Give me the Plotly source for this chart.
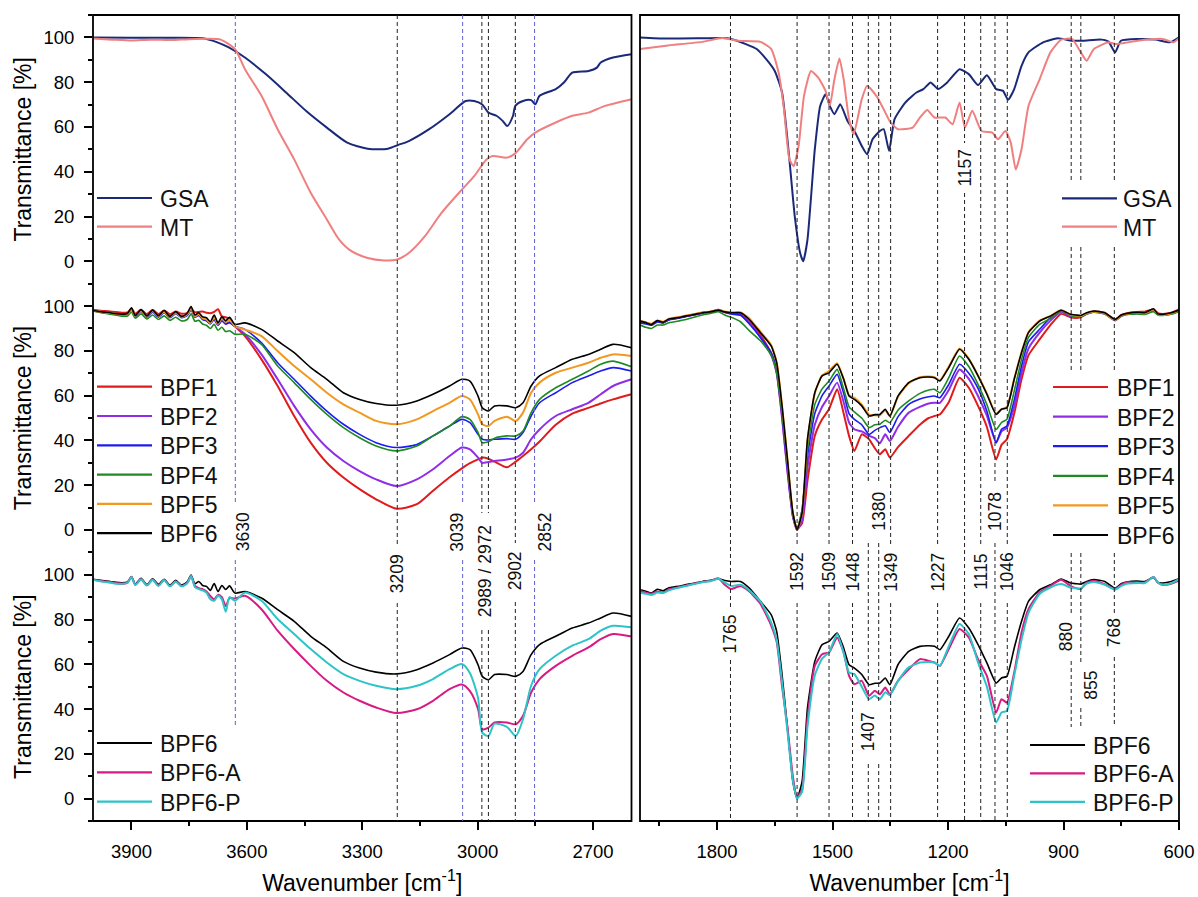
import plotly.graph_objects as go
from plotly.subplots import make_subplots

# ---------------- DATA ----------------
# Top-left panel (4000-2600 cm-1)
GSA_L_WN = [4000, 3900, 3800, 3711, 3680, 3647, 3605, 3551, 3498, 3445, 3392, 3339, 3286, 3233, 3206, 3179,
            3126, 3073, 3031, 3009, 2988, 2972, 2951, 2935, 2923, 2908, 2902, 2882, 2861, 2850, 2839, 2797,
            2775, 2754, 2712, 2690, 2680, 2648, 2600]
GSA_L_T = [100, 99.8, 99.8, 99.5, 98, 95.5, 91, 83.6, 75.4, 67, 59.7, 53, 50.3, 50.3, 52, 53.7,
           59, 65.7, 71.6, 71.6, 70, 66.4, 65, 62.7, 60.4, 65, 69.4, 71.6, 72, 70.1, 73.9, 76.9,
           80, 84.3, 85, 86.5, 88.8, 91, 92.5]
MT_L_WN = [4000, 3950, 3900, 3850, 3800, 3750, 3700, 3668, 3631, 3605, 3562, 3520, 3477, 3434, 3392, 3360,
           3328, 3286, 3243, 3211, 3179, 3137, 3094, 3041, 3009, 2977, 2961, 2924, 2902, 2871, 2850, 2797,
           2754, 2712, 2669, 2600]
MT_L_T = [99.5, 99, 98.6, 99, 98.8, 99.2, 99.4, 99, 94.8, 85.8, 73.9, 59, 45.5, 30.6, 18.7, 9.7,
          4.5, 1.5, 0.4, 0.7, 3.7, 11.2, 21.6, 32, 38, 45.5, 47, 46.3, 48.2, 54.5, 57.5, 62,
          65, 66.4, 69.4, 72.4]

# Middle/bottom-left panels common wavenumber grid
WN_L = [4000, 3985, 3970, 3955, 3940, 3925, 3910, 3900, 3890, 3875, 3860, 3845, 3830, 3815, 3800, 3785,
        3770, 3755, 3745, 3735, 3725, 3715, 3705, 3695, 3685, 3675, 3665, 3655, 3645,
        3631, 3605, 3562, 3520, 3477, 3434, 3392, 3349, 3307, 3264, 3211, 3158, 3116, 3073, 3041, 3020,
        2999, 2988, 2972, 2956, 2924, 2901, 2882, 2861, 2839, 2797, 2754, 2712, 2680, 2648, 2600]
BPF1_L = [98.4, 98, 97.8, 97.6, 97.3, 97, 97.2, 98.8, 96.6, 98.4, 96.4, 98.2, 96.4, 98, 96.4, 97.6,
          96.6, 97, 98.6, 97.2, 97.4, 97.6, 97, 96.8, 97.4, 98.6, 95.4, 95, 94.4,
          91, 86.6, 76.2, 64.3, 50.9, 39, 30, 23.4, 18.2, 13.7, 9.5, 11.5, 17.5, 23.5, 27.5, 29.8,
          31.5, 32.3, 31.8, 30.5, 28, 30.5, 33, 36, 39.5, 47, 52, 54.5, 56.5, 58.3, 60.6]
BPF2_L = [98, 97.6, 97.2, 96.8, 96.5, 96.2, 96.5, 98.6, 95.6, 98, 95.5, 97.8, 95.5, 97.6, 95.3, 97.2,
          95.2, 96, 98.5, 95.5, 96, 94.4, 93.6, 92.4, 94, 91.6, 93.6, 92, 92.8,
          91, 87.4, 78.4, 67.3, 55.4, 44.9, 36.8, 30.8, 26.3, 22.6, 19.6, 22.6, 27.1, 33, 36.8, 36,
          32.3, 30, 30.4, 30.8, 31.5, 32.3, 34.5, 40.5, 44.9, 50.9, 53.9, 56.8, 60.6, 64.3, 67.3]
BPF3_L = [97.8, 97.4, 97, 96.7, 96.3, 96, 96.3, 98.4, 95.3, 97.6, 95, 97.3, 95, 97, 94.8, 96.6,
          94.8, 95.8, 98.4, 95, 95.8, 94, 93.4, 92, 94.2, 91.5, 93.5, 92, 92.6,
          91, 89.6, 83.6, 74.7, 67.3, 59.8, 53.1, 47.2, 42.7, 39, 36.8, 38.2, 42, 46.4, 49.4, 47.9,
          42.7, 40.5, 40.2, 40.5, 40.8, 40.5, 43.5, 50.9, 56.8, 61.3, 65.8, 68.8, 71, 72.5, 71]
BPF4_L = [97.8, 97.2, 96.8, 96.4, 96, 95.5, 95.6, 97.2, 94.6, 96.5, 94.2, 96, 94, 95.6, 93.6, 95,
          93.4, 94, 96.5, 93.2, 93.6, 92, 91.4, 90, 91.8, 89.2, 90.5, 88.6, 89,
          87.4, 87.4, 82.9, 73.2, 65.8, 58.3, 51.6, 45.7, 41.2, 37.5, 35.3, 37.5, 42, 46.4, 50.6, 49.4,
          43.5, 39, 39.4, 41, 42, 42, 44.2, 52.4, 58.3, 63.5, 67.3, 71, 74, 75.4, 72.9]
BPF5_L = [98, 97.6, 97.2, 96.9, 96.6, 96.2, 96.5, 98.6, 95.6, 97.9, 95.4, 97.8, 95.5, 97.5, 95.2, 97,
          95.2, 96.3, 99, 95.5, 96.4, 94.6, 94, 92.4, 95, 92, 94.4, 92.8, 93.8,
          91, 89.5, 86.6, 79.9, 73.2, 67.3, 61.3, 56.1, 52.4, 48.7, 47.2, 49.4, 53.1, 56.8, 59.8, 58.3,
          51.6, 47.2, 46.4, 48.7, 50.6, 48.7, 52.4, 61.3, 65.8, 70.2, 72.5, 74.7, 76.9, 78.4, 77.7]
BPF6_L = [98, 97.6, 97.3, 97, 96.6, 96.4, 96.8, 99.2, 95.8, 98.4, 95.6, 98.2, 95.7, 98, 95.4, 97.5,
          95.4, 96.8, 99.8, 96, 97, 95.2, 94.8, 93, 96, 92.5, 95.2, 93.4, 95,
          91.8, 92.5, 89.6, 84.4, 79.2, 72.5, 67.3, 61.3, 58.3, 56.5, 55.7, 57.6, 60.6, 64.3, 67.3, 66.5,
          59.8, 54.6, 53.1, 55.4, 55.4, 54.6, 56.8, 64.3, 68.8, 72.5, 76.2, 78.4, 80.7, 82.9, 81.4]
BPF6A_L = [97.8, 97.4, 97, 96.7, 96.3, 96, 96.5, 99, 95.5, 98, 95.3, 97.8, 95.2, 97.6, 95, 97,
           95, 96.3, 99.4, 95, 94, 93.5, 92.5, 90.5, 89, 91, 90, 86, 89.5,
           89.4, 90.6, 84.6, 75, 66.8, 59.3, 52.6, 47.4, 43.7, 40.7, 38.2, 39.9, 43.7, 48.9, 51, 48,
           40, 31, 31.7, 34, 34, 33.2, 37, 47.4, 53.4, 59.3, 63.8, 67.5, 71.2, 73.5, 72.4]
BPF6P_L = [97.8, 97.2, 96.8, 96.4, 96, 96, 96.4, 99, 95.4, 98, 95.2, 97.8, 95, 97.6, 94.8, 97,
           94.8, 96.2, 99.4, 94.5, 93.6, 93, 92, 89, 88.4, 90.6, 89, 83.5, 90,
           88.4, 92, 88.4, 80.2, 73.5, 66.8, 60.8, 55.6, 52.6, 50.4, 48.9, 50.4, 53.4, 57.8, 60.1, 56,
           45, 29.5, 28, 33.5, 32, 28, 35.5, 50.4, 57.8, 63.8, 68.3, 71.2, 75, 77.2, 76.5]

# Top-right panel (2000-600 cm-1)
GSA_R_WN = [2000, 1932, 1838, 1786, 1763, 1725, 1697, 1669, 1650, 1631, 1612, 1598, 1584, 1576, 1565,
            1546, 1532, 1518, 1507, 1495, 1480, 1461, 1443, 1424, 1410, 1396, 1377, 1367, 1353, 1339,
            1311, 1282, 1264, 1245, 1226, 1202, 1170, 1146, 1122, 1099, 1075, 1057, 1044, 1028, 1009,
            991, 953, 915, 878, 849, 802, 783, 766, 751, 708, 661, 623, 600]
GSA_R_T = [100, 99.5, 99.6, 99.7, 99.3, 97, 94.8, 89.6, 85, 75.4, 45.5, 20, 3.7, 0, 9.7,
           50, 69.4, 74.6, 69.4, 65.7, 70.1, 62.7, 58.2, 51.5, 47.8, 54.5, 58.2, 59, 49.3, 63.4,
           70.9, 75.4, 76.9, 79.9, 76.9, 79.9, 85.8, 83.6, 78.7, 83.1, 76.9, 76.1, 72.1, 76.9, 87.3,
           93.3, 97.8, 99.6, 98.5, 98.5, 99, 98.1, 93.3, 98.5, 99.3, 99, 97.8, 100]
MT_R_WN = [2000, 1932, 1838, 1786, 1744, 1687, 1659, 1640, 1626, 1612, 1601, 1588, 1574, 1556, 1537,
           1518, 1507, 1495, 1482, 1471, 1457, 1445, 1424, 1410, 1386, 1367, 1349, 1330, 1292, 1273,
           1254, 1235, 1207, 1188, 1170, 1156, 1137, 1113, 1085, 1070, 1051, 1037, 1024, 1009, 991,
           962, 934, 906, 878, 855, 840, 821, 783, 764, 708, 642, 614, 600]
MT_R_T = [94.8, 96.3, 98, 99.7, 98.5, 98, 94.8, 84.3, 67.9, 45.5, 42.5, 51.5, 73.9, 85, 82,
          76.1, 69.4, 81.3, 90.6, 81.3, 63.4, 56.7, 72.4, 78.4, 73.9, 67.9, 61.9, 59, 59.7, 64.2,
          67.6, 64.2, 64.2, 61.2, 70.9, 59.7, 67.2, 58.2, 57.5, 54.5, 58.2, 53, 41, 50, 69.4,
          81.3, 93.3, 99, 99.3, 93.3, 89.6, 94.8, 97.8, 97, 98.5, 99.3, 97.8, 99.6]

# Middle/bottom-right panels common wavenumber grid
WN_R = [2000, 1985, 1970, 1955, 1940, 1925, 1910, 1895, 1880, 1860, 1838, 1815, 1796, 1780, 1763,
        1739, 1716, 1687, 1659, 1645, 1631, 1617, 1603, 1592, 1579, 1565, 1546, 1527, 1509, 1488,
        1471, 1457, 1443, 1424, 1405, 1390, 1377, 1363, 1351, 1330, 1302, 1273, 1250, 1235, 1221,
        1198, 1170, 1146, 1122, 1099, 1075, 1061, 1047, 1028, 1009, 991, 962, 934, 906, 882,
        868, 855, 840, 821, 793, 766, 750, 736, 710, 689, 666, 655, 642, 620, 600]
BPF1_R = [93, 92.5, 92, 93.3, 92.8, 94, 94.6, 95, 95.6, 96.2, 97, 97.5, 98.2, 97.3, 96.8,
          96.3, 93, 87, 79, 71, 51, 27, 7, 0.5, 3, 22, 42, 49.4, 53.9, 62.8,
          52, 42, 35.3, 42.7, 40.5, 36.5, 33.8, 36, 32.3, 37, 42, 47, 50, 50.9, 51.6,
          57, 68, 63.5, 55.4, 46, 31.5, 38, 40.5, 52, 67.3, 78, 85.1, 91.5, 96.5, 95,
          94.7, 95, 96.5, 97.6, 97, 94, 96, 96.8, 97.4, 97.5, 98.5, 96.8, 96.5, 97, 98.5]
BPF2_R = [93, 92.5, 91.5, 93, 92.5, 94, 94.5, 95, 95.5, 96.2, 97, 97.5, 98.4, 97.2, 96.5,
          96, 92.5, 86, 78, 70, 50, 26, 6, 0, 4, 28, 47, 55, 59.8, 65.8,
          57, 48, 44.9, 44, 42, 41, 38.7, 42.7, 39.7, 46, 52.4, 55, 56.5, 56.8, 56.8,
          62.5, 71.7, 67.5, 59.8, 51, 39, 44, 45.7, 55, 70.2, 81, 88.1, 93.5, 97.5, 95.3,
          95, 95.2, 96.5, 97.5, 96.5, 93.6, 95.5, 96.3, 96.8, 96.8, 98, 96.3, 96, 96.5, 97.8]
BPF3_R = [92.5, 92, 91.5, 93, 92.5, 93.8, 94.2, 94.8, 95.3, 96, 96.8, 97.3, 98, 97.2, 96.5,
          96, 92, 86, 79, 71, 52, 28, 6, 0, 9, 33, 52, 60, 64.3, 69.5,
          61, 52, 49.4, 47, 42.7, 44.5, 45.7, 46.5, 43.5, 50.5, 56.1, 58.5, 59.5, 59.8, 59.1,
          65, 74, 70, 63.2, 53, 39, 45, 46.4, 58, 73.2, 84, 89.6, 94.8, 98, 96,
          95.6, 95.6, 96.8, 97.6, 96.8, 94, 95.8, 96.5, 96.8, 96.6, 97.8, 96.3, 96, 96.6, 97.8]
BPF4_R = [91.5, 90.5, 90, 91.5, 91.5, 92.5, 93, 93.5, 94, 95, 96, 96.8, 97.5, 96, 95,
          93, 89, 84.5, 78, 70, 52, 30, 7, 0.5, 9, 36, 56, 63, 66.5, 71.7,
          63, 55, 52.7, 50, 45.7, 47, 47.2, 49, 47.9, 53.5, 57.6, 61, 62.5, 62.8, 61.3,
          68, 77.7, 73, 65, 56, 44.9, 48, 49.4, 62, 76.2, 86, 91.8, 94.5, 97.8, 95.8,
          95.3, 95.3, 96.5, 97.3, 96.5, 93.8, 95.5, 96.2, 96.5, 96.3, 97.5, 96, 95.8, 96.3, 97.5]
BPF5_R = [93.5, 92.8, 92, 93.6, 93, 94.3, 94.8, 95.2, 95.8, 96.4, 97.2, 97.6, 98.4, 97.6, 97.2,
          97.2, 94.5, 88.5, 82.5, 75, 55.5, 31.5, 7.5, 0, 7.5, 40, 61, 69, 71, 74.5,
          67.5, 60.2, 59, 56, 51.5, 51.2, 51.2, 53.5, 50.7, 59.5, 65.5, 68.2, 68.5, 68.2, 66.8,
          73, 81, 76.5, 69, 61, 51.8, 54, 54.8, 67.5, 79.5, 88.3, 93.5, 95.6, 98.2, 96.2,
          95.8, 95.6, 96.8, 97.6, 96.8, 93.8, 95.8, 96.5, 97, 96.8, 98.4, 96.3, 96, 96.8, 98]
BPF6_R = [93.3, 92.6, 91.8, 93.5, 92.8, 94.2, 94.6, 95, 95.6, 96.2, 97, 97.5, 98.2, 97.4, 97,
          97, 94, 88.1, 82.1, 74.7, 55.4, 31.5, 7.7, 0, 7.7, 40.5, 61.3, 68.8, 70.2, 74,
          67.3, 59.8, 58.3, 55.4, 50.9, 51.5, 51.6, 53.9, 50.9, 59.8, 65.8, 68, 68.3, 68, 66.5,
          72.5, 80.7, 76.2, 68.8, 60.6, 51.6, 53.9, 54.6, 67.3, 79.2, 88.1, 93.3, 95.5, 98.1, 96.3,
          96, 95.8, 97, 97.8, 97, 94, 96, 96.7, 97.2, 97, 98.8, 96.5, 96.3, 97, 98.2]
BPF6A_R = [92.8, 92, 91.5, 92.5, 92, 93.5, 94, 94.6, 95.2, 96, 96.8, 97.4, 98.4, 95.5, 93.6,
           95, 92.5, 87, 77.2, 70, 50, 32, 10, 0.5, 4, 35.5, 59.3, 64.5, 65.3, 72,
           65.3, 54.8, 51.1, 52.6, 45.9, 48.2, 46.6, 49.6, 46.6, 52.6, 57.8, 62.3, 61.5, 60.8, 59.3,
           66.8, 75.8, 72, 62.3, 54.8, 38.5, 44.4, 42.9, 56.3, 74.2, 84.6, 92.1, 95, 97.8, 95,
           94, 93.6, 96.5, 97.3, 95.8, 93.6, 95.5, 96.6, 96.5, 96.5, 99, 96.5, 95.4, 96, 97.3]
BPF6P_R = [92, 91.5, 91, 92, 91.8, 93, 93.8, 94.4, 95, 95.8, 96.6, 97.2, 98.2, 96.5, 95,
           95.5, 93, 88, 78.5, 71, 52, 30, 8, 0, 3, 32, 55, 62.5, 65.3, 73.5,
           65, 56.3, 55.6, 50, 44.4, 46, 44.4, 47.5, 46.2, 52.5, 58.6, 60.8, 61, 60.8, 59.3,
           68, 78, 73.5, 60.8, 50, 34, 38.5, 39.2, 55, 71, 83, 91.4, 94.3, 95.8, 94.3,
           94, 93.9, 96, 96.8, 95.5, 93.3, 95, 96, 96.3, 96.3, 99, 96.5, 95.5, 96.2, 98]

# Peak markers (wavenumbers)
PEAKS_LEFT = [3630, 3209, 3039, 2989, 2972, 2902, 2852]
PEAKS_RIGHT = [1765, 1592, 1509, 1448, 1407, 1380, 1349, 1227, 1157, 1115, 1078, 1046, 880, 855, 768]

Y_TICKS = [0, 20, 40, 60, 80, 100]
X_TICKS_LEFT = [3900, 3600, 3300, 3000, 2700]
X_TICKS_RIGHT = [1800, 1500, 1200, 900, 600]

# ---------------- STYLE / LAYOUT ----------------
C = dict(GSA="#1b2a78", MT="#f07f80", BPF1="#e01b1b", BPF2="#8f2ee6", BPF3="#1c1cf0",
         BPF4="#1f8a22", BPF5="#f2981f", BPF6="#000000", BPF6A="#d81b82", BPF6P="#2cc4c8")
W = dict(GSA=2, MT=2, BPF1=2, BPF2=2, BPF3=1.6, BPF4=1.6, BPF5=2, BPF6=1.6, BPF6A=2, BPF6P=2)
FONT = "Liberation Sans, Arial, sans-serif"

PLOT_L, PLOT_R, PLOT_T, PLOT_B = 93, 1179, 15, 821      # target screen coords of the plotting area
W_PX, H_PX = 1198, 897
ML, MT_ = PLOT_L, PLOT_T
PW = PLOT_R - PLOT_L
PH = PLOT_B - PLOT_T
MR = W_PX - ML - PW
MB = H_PX - MT_ - PH


def pxx(p):
    return (p - PLOT_L) / PW


def pxy(p):
    return (PLOT_B - p) / PH


LEFT_DOM = [0, pxx(631.5)]
RIGHT_DOM = [pxx(640), 1]

fig = make_subplots(rows=3, cols=2, vertical_spacing=0, horizontal_spacing=0.01)

panels = [
    (1, 1, [("GSA", GSA_L_WN, GSA_L_T), ("MT", MT_L_WN, MT_L_T)]),
    (1, 2, [("GSA", GSA_R_WN, GSA_R_T), ("MT", MT_R_WN, MT_R_T)]),
    (2, 1, [("BPF1", WN_L, BPF1_L), ("BPF2", WN_L, BPF2_L), ("BPF3", WN_L, BPF3_L),
            ("BPF4", WN_L, BPF4_L), ("BPF5", WN_L, BPF5_L), ("BPF6", WN_L, BPF6_L)]),
    (2, 2, [("BPF1", WN_R, BPF1_R), ("BPF2", WN_R, BPF2_R), ("BPF3", WN_R, BPF3_R),
            ("BPF4", WN_R, BPF4_R), ("BPF5", WN_R, BPF5_R), ("BPF6", WN_R, BPF6_R)]),
    (3, 1, [("BPF6", WN_L, BPF6_L), ("BPF6-A", WN_L, BPF6A_L), ("BPF6-P", WN_L, BPF6P_L)]),
    (3, 2, [("BPF6", WN_R, BPF6_R), ("BPF6-A", WN_R, BPF6A_R), ("BPF6-P", WN_R, BPF6P_R)]),
]

for r, c, series in panels:
    for name, xs, ys in series:
        key = name.replace("-", "")
        fig.add_trace(go.Scatter(x=xs, y=ys, mode="lines", name=name, showlegend=False,
                                 line=dict(color=C[key], width=W[key], shape="spline",
                                           smoothing=0.7 if c == 1 else 0.5)),
                      row=r, col=c)

for r in (1, 2, 3):
    for c in (1, 2):
        dom = LEFT_DOM if c == 1 else RIGHT_DOM
        rng = [4000, 2600] if c == 1 else [2000, 600]
        xk = dict(domain=dom, range=rng, showgrid=False, zeroline=False, showline=False)
        if r == 3:
            xk.update(tickmode="array", tickvals=X_TICKS_LEFT if c == 1 else X_TICKS_RIGHT,
                      ticks="outside", ticklen=8, tickwidth=1.5, tickcolor="black",
                      minor=dict(tickmode="linear", tick0=0, dtick=150, ticks="outside", ticklen=4,
                                 tickwidth=1.5, tickcolor="black"),
                      tickfont=dict(size=18.5, color="black", family=FONT),
                      ticklabelstandoff=6,
                      title=dict(text="Wavenumber [cm<sup>-1</sup>]", standoff=13,
                                 font=dict(size=23, color="black", family=FONT)))
        else:
            xk.update(showticklabels=False, ticks="")
        fig.update_xaxes(row=r, col=c, **xk)
        yk = dict(range=[-10, 110], showgrid=False, zeroline=False, showline=False)
        if c == 1:
            yk.update(tickmode="array", tickvals=Y_TICKS, ticks="outside", ticklen=8, tickwidth=1.5,
                      tickcolor="black",
                      minor=dict(tickmode="linear", tick0=-10, dtick=20, ticks="outside", ticklen=4,
                                 tickwidth=1.5, tickcolor="black"),
                      tickfont=dict(size=18.5, color="black", family=FONT), ticklabelstandoff=6,
                      title=dict(text="Transmittance [%]", standoff=5,
                                 font=dict(size=23, color="black", family=FONT)))
        else:
            yk.update(showticklabels=False, ticks="")
        fig.update_yaxes(row=r, col=c, **yk)

shapes = []
annotations = []

# Column frames
for dom in (LEFT_DOM, RIGHT_DOM):
    shapes.append(dict(type="rect", xref="paper", yref="paper", x0=dom[0], x1=dom[1], y0=0, y1=1,
                       line=dict(color="black", width=1.8), layer="above"))

BLUE_D = "#5f5fd0"
BLACK_D = "#222222"
DASH = "4px,3px"

# Left column dashed peak markers: (wavenumber -> colour, segments in screen px)
LEFT_SEGS = {
    3630: (BLUE_D, [(15, 502), (560, 725)]),
    3209: (BLACK_D, [(15, 545), (603, 821)]),
    3039: (BLUE_D, [(15, 505), (560, 821)]),
    2989: (BLACK_D, [(15, 513), (630, 821)]),
    2972: (BLACK_D, [(15, 513), (630, 821)]),
    2902: (BLACK_D, [(15, 543), (602, 821)]),
    2852: (BLUE_D, [(15, 505), (560, 821)]),
}
LEFT_LABELS = [("3630", 3630, 532, 8), ("3209", 3209, 574, 0), ("3039", 3039, 532, -6),
               ("2989 / 2972", 2980, 571, 0), ("2902", 2902, 571, 0), ("2852", 2852, 532, 10)]

STD = [(15, 545), (603, 821)]
RIGHT_SEGS = {
    1765: [(15, 608), (660, 821)],
    1592: STD, 1509: STD, 1448: STD, 1349: STD, 1227: STD, 1115: STD, 1046: STD,
    1407: [(15, 482), (543, 702), (764, 821)],
    1380: [(15, 482), (543, 702), (764, 821)],
    1157: [(15, 143), (193, 821)],
    1078: [(15, 482), (543, 821)],
    880: [(15, 180), (247, 370), (553, 613), (661, 727)],
    855: [(15, 180), (247, 370), (553, 662), (708, 727)],
    768: [(15, 180), (247, 370), (553, 613), (657, 727)],
}
RIGHT_LABELS = [("1765", 1765, 634, 0), ("1592", 1592, 572, 0), ("1509", 1509, 572, 0),
                ("1448", 1448, 572, 0), ("1407", 1407, 732, 0), ("1380", 1380, 511, 0),
                ("1349", 1349, 572, 0), ("1227", 1227, 572, 0), ("1157", 1157, 168, 0),
                ("1115", 1115, 572, 0), ("1078", 1078, 511, 0), ("1046", 1046, 572, 0),
                ("880", 880, 637, -5), ("855", 855, 685, 10), ("768", 768, 633, 0)]

for wn in PEAKS_LEFT:
    col, segs = LEFT_SEGS[wn]
    for a, b in segs:
        shapes.append(dict(type="line", xref="x5", yref="paper", x0=wn, x1=wn, y0=pxy(a), y1=pxy(b),
                           line=dict(color=col, width=1, dash=DASH), layer="above"))
for wn in PEAKS_RIGHT:
    for a, b in RIGHT_SEGS[wn]:
        shapes.append(dict(type="line", xref="x6", yref="paper", x0=wn, x1=wn, y0=pxy(a), y1=pxy(b),
                           line=dict(color=BLACK_D, width=1, dash=DASH), layer="above"))

for txt, wn, yc, xs in LEFT_LABELS:
    annotations.append(dict(text=txt, x=wn, xref="x5", y=pxy(yc), yref="paper", textangle=-90,
                            showarrow=False, xanchor="center", yanchor="middle", xshift=xs,
                            font=dict(size=17.5, color="#111", family=FONT)))
for txt, wn, yc, xs in RIGHT_LABELS:
    annotations.append(dict(text=txt, x=wn, xref="x6", y=pxy(yc), yref="paper", textangle=-90,
                            showarrow=False, xanchor="center", yanchor="middle", xshift=xs,
                            font=dict(size=17.5, color="#111", family=FONT)))

# Legends: (names, line x0, line x1, text x, first y, step) in screen px
LEGENDS = [
    (["GSA", "MT"], 97, 152, 158, 198, 28.7),
    (["GSA", "MT"], 1062, 1117, 1121, 198.3, 28.4),
    (["BPF1", "BPF2", "BPF3", "BPF4", "BPF5", "BPF6"], 97, 152, 158, 386.7, 29.3),
    (["BPF1", "BPF2", "BPF3", "BPF4", "BPF5", "BPF6"], 1053, 1108, 1115, 387, 29.6),
    (["BPF6", "BPF6-A", "BPF6-P"], 97, 152, 158, 743, 29.3),
    (["BPF6", "BPF6-A", "BPF6-P"], 1030, 1085, 1091, 745, 28.4),
]
for names, x0, x1, xt, y0, step in LEGENDS:
    for i, nm in enumerate(names):
        key = nm.replace("-", "")
        yy = y0 + i * step
        shapes.append(dict(type="line", xref="paper", yref="paper", x0=pxx(x0), x1=pxx(x1),
                           y0=pxy(yy), y1=pxy(yy), line=dict(color=C[key], width=2.2), layer="above"))
        annotations.append(dict(text=nm, x=pxx(xt), y=pxy(yy), xref="paper", yref="paper",
                                showarrow=False, xanchor="left", yanchor="middle", yshift=-1,
                                font=dict(size=23, color="#111", family=FONT)))

fig.update_layout(width=W_PX, height=H_PX, margin=dict(l=ML, r=MR, t=MT_, b=MB, autoexpand=False),
                  plot_bgcolor="white", paper_bgcolor="white", showlegend=False,
                  shapes=shapes, annotations=annotations, font=dict(family=FONT, color="black"))

# Remove the default 8 px page margin so the figure sits at the window origin; hide the modebar.
fig.write_html("out.html", config={"displayModeBar": False},
               post_script="document.body.style.margin='0';document.body.style.overflow='hidden';")
